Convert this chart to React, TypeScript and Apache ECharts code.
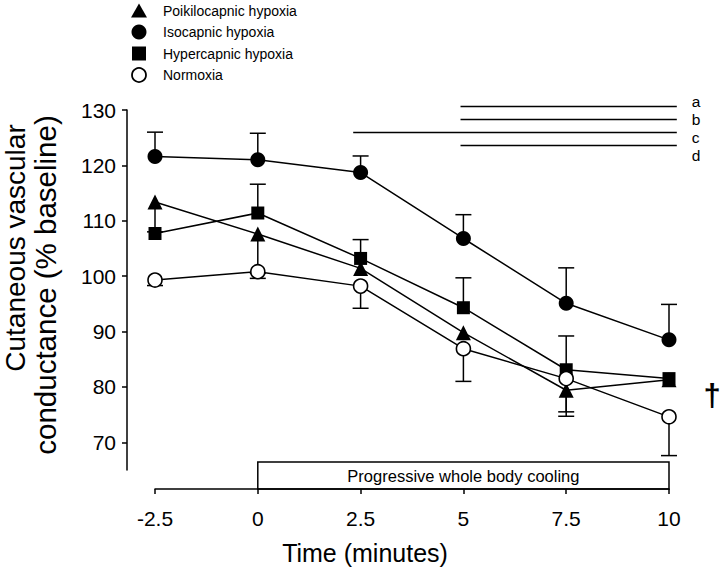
import React, { useEffect, useRef } from "react";
import * as echarts from "echarts";

const times = [-2.5, 0, 2.5, 5, 7.5, 10];
const poikilocapnic = [113.4, 107.6, 101.4, 89.8, 79.4, 81.3];
const poikilocapnicErr = [108.0, 100.5, null, null, 74.7, null];
const isocapnic = [121.6, 121.0, 118.7, 106.8, 95.1, 88.5];
const isocapnicErr = [126.0, 125.8, 121.7, 111.1, 101.5, 94.9];
const hypercapnic = [107.7, 111.4, 103.2, 94.3, 83.1, 81.5];
const hypercapnicErr = [null, 116.6, 106.6, 99.7, 89.2, null];
const normoxia = [99.3, 100.8, 98.2, 86.9, 81.5, 74.6];
const normoxiaErr = [98.3, 99.6, 94.2, 81.0, 75.5, 67.6];
const yTicks = [70, 80, 90, 100, 110, 120, 130];
const seriesNames = ["Poikilocapnic hypoxia", "Isocapnic hypoxia", "Hypercapnic hypoxia", "Normoxia"];
const sigLabels = ["a", "b", "c", "d"];
const sigStart = [4.93, 4.93, 2.32, 4.93];
const sigEnd = [10.19, 10.19, 10.19, 10.19];
const sigLevel = [130.63, 128.28, 125.93, 123.58];
const coolingStart = 0;
const coolingEnd = 10;

const FONT = "'Liberation Sans', Arial, Helvetica, sans-serif";
const BLACK = "#000";

function errorSeries(name: string, values: number[], ends: (number | null)[], z: number) {
  const data: number[][] = [];
  times.forEach((t, i) => {
    const e = ends[i];
    if (e !== null && e !== undefined) data.push([t, values[i], e]);
  });
  return {
    type: "custom",
    name: name + " error",
    z,
    silent: true,
    data,
    encode: { x: 0, y: [1, 2] },
    renderItem: (params: any, api: any) => {
      const x = api.value(0);
      const p0 = api.coord([x, api.value(1)]);
      const p1 = api.coord([x, api.value(2)]);
      const hw = 8;
      const st = { stroke: BLACK, lineWidth: 1.5 };
      return {
        type: "group",
        children: [
          { type: "line", shape: { x1: p0[0], y1: p0[1], x2: p1[0], y2: p1[1] }, style: st },
          { type: "line", shape: { x1: p1[0] - hw, y1: p1[1], x2: p1[0] + hw, y2: p1[1] }, style: st },
        ],
      };
    },
  };
}

function lineSeries(name: string, values: number[], symbol: string, size: number, fill: string, z: number) {
  return {
    type: "line",
    name,
    z,
    data: times.map((t, i) => [t, values[i]]),
    symbol,
    symbolSize: size,
    showAllSymbol: true,
    lineStyle: { color: BLACK, width: 1.5 },
    itemStyle: { color: fill, borderColor: BLACK, borderWidth: fill === BLACK ? 0 : 1.6 },
    emphasis: { disabled: true },
  };
}

export default function App() {
  const ref = useRef<HTMLDivElement>(null);
  useEffect(() => {
    if (!ref.current) return;
    const chart = echarts.init(ref.current, undefined, { renderer: "svg" });

    const legendY = [10.5, 32, 53.5, 75];
    const legendX = 139;
    const legendGraphics: any[] = [
      { type: "polygon", shape: { points: [[legendX - 8, legendY[0] + 7], [legendX + 8, legendY[0] + 7], [legendX, legendY[0] - 7]] }, style: { fill: BLACK } },
      { type: "circle", shape: { cx: legendX, cy: legendY[1], r: 7.5 }, style: { fill: BLACK } },
      { type: "rect", shape: { x: legendX - 7, y: legendY[2] - 7, width: 14, height: 14 }, style: { fill: BLACK } },
      { type: "circle", shape: { cx: legendX, cy: legendY[3], r: 7 }, style: { fill: "#fff", stroke: BLACK, lineWidth: 1.8 } },
    ];
    seriesNames.forEach((n, i) => {
      legendGraphics.push({
        type: "text",
        x: 163,
        y: legendY[i],
        style: { text: n, fontSize: 14, fontFamily: FONT, fill: BLACK, verticalAlign: "middle", align: "left" },
      });
    });

    const sigSeries = {
      type: "custom",
      name: "significance",
      z: 2,
      silent: true,
      clip: false,
      data: sigLabels.map((l, i) => [sigStart[i], sigEnd[i], sigLevel[i], i]),
      encode: { x: [0, 1], y: 2 },
      renderItem: (params: any, api: any) => {
        const idx = api.value(3);
        const a = api.coord([api.value(0), api.value(2)]);
        const b = api.coord([api.value(1), api.value(2)]);
        return {
          type: "group",
          children: [
            { type: "line", shape: { x1: a[0], y1: a[1], x2: b[0], y2: b[1] }, style: { stroke: BLACK, lineWidth: 1.5 } },
            {
              type: "text",
              x: b[0] + 15,
              y: a[1] - 5 + idx * 5,
              style: { text: sigLabels[idx], fontSize: 15.5, fontFamily: FONT, fill: BLACK, align: "left", verticalAlign: "middle" },
            },
          ],
        };
      },
    };

    chart.setOption({
      animation: false,
      backgroundColor: "#fff",
      grid: { left: 155, right: 51, top: 110, bottom: 108, containLabel: false },
      xAxis: {
        type: "value",
        min: -2.5,
        max: 10,
        interval: 2.5,
        offset: 19,
        axisLine: { show: true, onZero: false, lineStyle: { color: BLACK, width: 1.5 } },
        axisTick: { show: true, length: 5, lineStyle: { color: BLACK, width: 1.5 } },
        axisLabel: { color: BLACK, fontSize: 21, fontFamily: FONT, margin: 19, formatter: (v: number) => String(v) },
        splitLine: { show: false },
      },
      yAxis: {
        type: "value",
        min: 65,
        max: 130,
        offset: 28,
        axisLine: { show: true, onZero: false, lineStyle: { color: BLACK, width: 1.5 } },
        axisTick: { show: true, length: 5, customValues: yTicks, lineStyle: { color: BLACK, width: 1.5 } },
        axisLabel: { color: BLACK, fontSize: 21, fontFamily: FONT, margin: 11, customValues: yTicks },
        splitLine: { show: false },
      },
      series: [
        sigSeries,
        errorSeries(seriesNames[0], poikilocapnic, poikilocapnicErr, 2),
        errorSeries(seriesNames[2], hypercapnic, hypercapnicErr, 2),
        errorSeries(seriesNames[1], isocapnic, isocapnicErr, 2),
        errorSeries(seriesNames[3], normoxia, normoxiaErr, 2),
        lineSeries(seriesNames[0], poikilocapnic, "triangle", 15, BLACK, 3),
        lineSeries(seriesNames[2], hypercapnic, "rect", 13, BLACK, 4),
        lineSeries(seriesNames[1], isocapnic, "circle", 15, BLACK, 5),
        lineSeries(seriesNames[3], normoxia, "circle", 14, "#fff", 6),
      ],
      graphic: [
        ...legendGraphics,
        {
          type: "text",
          x: 15,
          y: 248,
          rotation: Math.PI / 2,
          style: { text: "Cutaneous vascular", fontSize: 28, fontFamily: FONT, fill: BLACK, align: "center", verticalAlign: "middle" },
        },
        {
          type: "text",
          x: 45,
          y: 285,
          rotation: Math.PI / 2,
          style: { text: "conductance (% baseline)", fontSize: 29.5, fontFamily: FONT, fill: BLACK, align: "center", verticalAlign: "middle" },
        },
        {
          type: "text",
          x: 365,
          y: 553,
          style: { text: "Time (minutes)", fontSize: 25, fontFamily: FONT, fill: BLACK, align: "center", verticalAlign: "middle" },
        },
        {
          type: "text",
          x: 712,
          y: 395,
          style: { text: "\u2020", fontSize: 31, fontWeight: "bold", fontFamily: FONT, fill: BLACK, align: "center", verticalAlign: "middle" },
        },
      ],
    });

    // cooling period box, positioned from the x scale
    const x0 = chart.convertToPixel({ gridIndex: 0 }, [coolingStart, 65]) as number[];
    const x1 = chart.convertToPixel({ gridIndex: 0 }, [coolingEnd, 65]) as number[];
    const boxBottom = x0[1] + 19;
    const boxTop = boxBottom - 27;
    chart.setOption({
      graphic: [
        ...legendGraphics.map(() => ({})),
        {}, {}, {}, {},
        {
          type: "rect",
          shape: { x: x0[0], y: boxTop, width: x1[0] - x0[0], height: boxBottom - boxTop },
          style: { fill: "none", stroke: BLACK, lineWidth: 1.5 },
        },
        {
          type: "text",
          x: (x0[0] + x1[0]) / 2,
          y: (boxTop + boxBottom) / 2 + 0.5,
          style: { text: "Progressive whole body cooling", fontSize: 16.5, fontFamily: FONT, fill: BLACK, align: "center", verticalAlign: "middle" },
        },
      ],
    });

    return () => chart.dispose();
  }, []);
  return <div ref={ref} style={{ position: "absolute", left: 0, top: 0, width: 720, height: 578, background: "#fff" }} />;
}
